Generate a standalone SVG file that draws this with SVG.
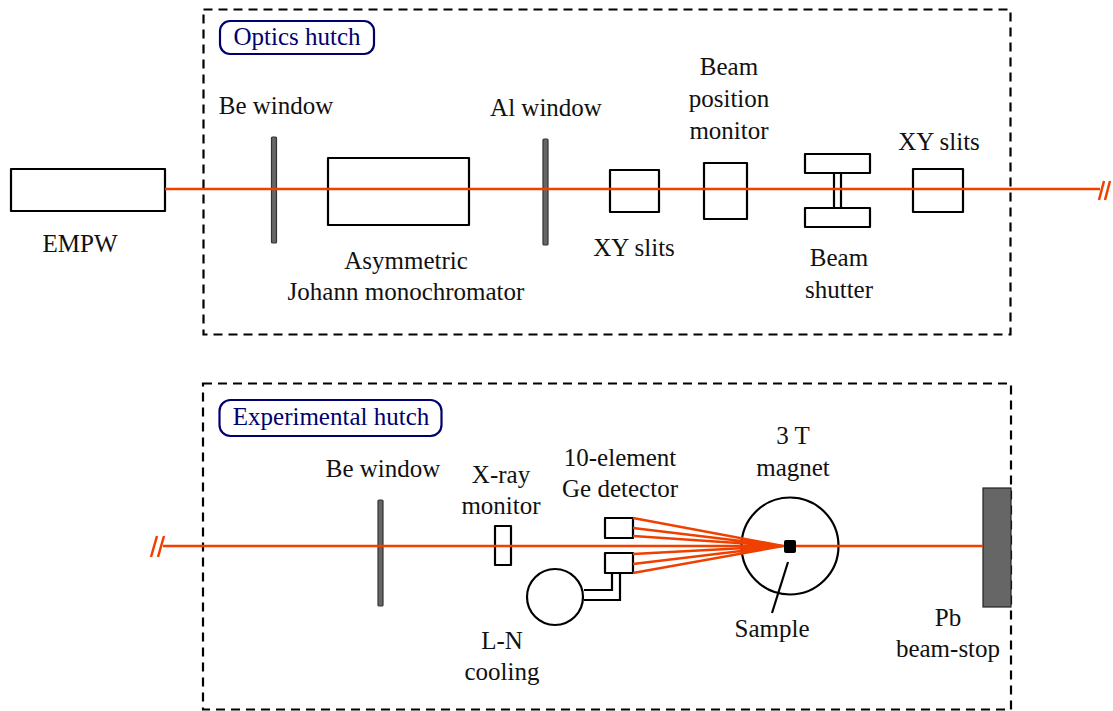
<svg xmlns="http://www.w3.org/2000/svg" width="1113" height="711" viewBox="0 0 1113 711">
<style>
text{font-family:"Liberation Serif","Times New Roman",serif;font-size:25px;fill:#111;text-anchor:middle}
.box{fill:#fff;stroke:#000;stroke-width:2.2;stroke-linejoin:round}
.line{fill:none;stroke:#000;stroke-width:2.2}
.hutch{fill:none;stroke:#000;stroke-width:2.2;stroke-dasharray:9 6}
.tag{fill:#fff;stroke:#00006e;stroke-width:2.2}
.tagt{fill:#00006e}
.win{fill:#666;stroke:#333;stroke-width:1.2}
.beam{fill:none;stroke:#f04000;stroke-width:2.5}
</style>
<g id="optics-hutch"><rect class="hutch" x="203.500" y="9.500" width="807" height="325"/><rect class="tag" x="220" y="21" width="154" height="33" rx="10"/><text class="tagt" x="297" y="45">Optics hutch</text></g>
<g id="experimental-hutch"><rect class="hutch" x="203" y="383.500" width="808" height="326"/><rect class="tag" x="219.500" y="400" width="222" height="36" rx="11"/><text class="tagt" x="331" y="425">Experimental hutch</text></g>
<g id="empw"><rect class="box" x="11" y="169" width="154" height="42"/><text x="80" y="252">EMPW</text></g>
<g id="be-window-1"><rect class="win" x="271.500" y="137" width="5" height="106" rx="1"/><text x="276" y="114">Be window</text></g>
<g id="monochromator"><rect class="box" x="328" y="158" width="141" height="67"/><text x="406" y="269">Asymmetric</text><text x="406" y="300">Johann monochromator</text></g>
<g id="al-window"><rect class="win" x="543" y="139" width="5" height="106" rx="1"/><text x="546" y="116">Al window</text></g>
<g id="xy-slits-1"><rect class="box" x="610" y="170" width="49" height="42"/><text x="634" y="256">XY slits</text></g>
<g id="bpm"><rect class="box" x="704" y="163" width="43" height="56"/><text x="729" y="75">Beam</text><text x="729" y="107">position</text><text x="729" y="139">monitor</text></g>
<g id="beam-shutter"><rect class="box" x="805" y="154" width="65" height="19"/><rect class="box" x="805" y="208" width="65" height="19"/><rect class="box" x="834" y="173" width="7" height="35"/><text x="839" y="266">Beam</text><text x="839" y="298">shutter</text></g>
<g id="xy-slits-2"><rect class="box" x="913" y="169" width="50" height="43"/><text x="939" y="150">XY slits</text></g>
<g id="be-window-2"><rect class="win" x="378" y="500" width="5" height="106" rx="1"/><text x="383" y="477">Be window</text></g>
<g id="xray-monitor"><rect class="box" x="495" y="526" width="16" height="39"/><text x="501" y="483">X-ray</text><text x="501" y="514">monitor</text></g>
<g id="ge-detector"><rect class="box" x="605" y="518" width="28" height="20"/><rect class="box" x="605" y="553" width="28" height="20"/><text x="620" y="466">10-element</text><text x="620" y="497">Ge detector</text></g>
<g id="ln-cooling"><circle class="box" cx="555" cy="597" r="28"/><path class="line" d="M584 590H612V573M584 600H620V573"/><text x="502" y="649">L-N</text><text x="502" y="680">cooling</text></g>
<g id="magnet"><circle class="box" cx="790" cy="546" r="48.500"/><text x="793" y="444">3 T</text><text x="793" y="476">magnet</text></g>
<g id="beam-stop"><rect x="983" y="488" width="28" height="119" fill="#666" stroke="#222" stroke-width="1.2"/><text x="948" y="626">Pb</text><text x="948" y="657">beam-stop</text></g>
<g id="connectors">
<path class="beam" d="M165 189H1100M1099 200L1104 181M1105 200L1110 181"/>
<path class="beam" d="M163 546H983M151 557L157 536M158 557L164 536"/>
<path class="beam" d="M633 518L783 546M633 528L783 546M633 536L783 546M633 554L783 546M633 564L783 546M633 573L783 546"/>
<path class="line" d="M788 562L772 613"/>
</g>
<g id="sample"><rect x="784" y="540" width="12" height="13" rx="2" fill="#000"/><text x="772" y="637">Sample</text></g>
</svg>
